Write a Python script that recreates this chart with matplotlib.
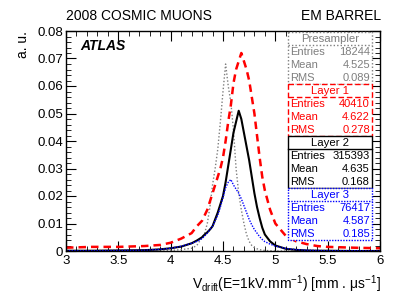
import numpy as np
import matplotlib.pyplot as plt
from matplotlib.patches import Rectangle
from matplotlib.ticker import MultipleLocator

plt.rcParams['font.family'] = ['Liberation Sans', 'DejaVu Sans']

# drift velocity points (mm/us)
vdrift = [3.0, 3.25, 3.5, 3.75, 3.9, 4.0, 4.1, 4.2, 4.25,
          4.3, 4.325, 4.35, 4.375, 4.4, 4.425, 4.45, 4.475, 4.5, 4.525,
          4.55, 4.575, 4.6, 4.625, 4.65, 4.675, 4.7, 4.725, 4.75, 4.775,
          4.8, 4.825, 4.85, 4.875, 4.9,
          4.95, 5.0, 5.1, 5.2, 5.3, 5.4, 5.5, 5.75, 6.0]

presampler = [0, 0, 0, 0, 0, 0.0002, 0.0005, 0.001, 0.002,
              0.005, 0.0065, 0.010, 0.016, 0.024, 0.030, 0.037, 0.047, 0.058, 0.068,
              0.060, 0.054, 0.044, 0.030, 0.021, 0.015, 0.010, 0.006, 0.0035, 0.002,
              0.0012, 0.0008, 0.0005, 0.0003, 0.0002,
              0.0001, 0, 0, 0, 0, 0, 0, 0, 0]

layer1 = [0.0012, 0.0015, 0.0015, 0.0018, 0.0022, 0.003, 0.0045, 0.0065, 0.009,
          0.011, 0.013, 0.015, 0.018, 0.021, 0.024, 0.027, 0.030, 0.034, 0.040,
          0.047, 0.053, 0.061, 0.066, 0.069, 0.072, 0.069, 0.066, 0.062, 0.056,
          0.050, 0.042, 0.034, 0.027, 0.022,
          0.015, 0.010, 0.0055, 0.0035, 0.0025, 0.0018, 0.0015, 0.0012, 0.001]

layer2 = [0.0001, 0.0001, 0.0002, 0.0003, 0.0006, 0.001, 0.0016, 0.0028, 0.0038,
          0.005, 0.006, 0.0068, 0.0078, 0.009, 0.0115, 0.014, 0.017, 0.020, 0.025,
          0.031, 0.037, 0.043, 0.047, 0.051, 0.048, 0.043, 0.038, 0.033, 0.027,
          0.021, 0.016, 0.012, 0.0085, 0.006,
          0.0035, 0.002, 0.0008, 0.0004, 0.0002, 0.0001, 0.0001, 0, 0]

layer3 = [0.0001, 0.0001, 0.0002, 0.0003, 0.0006, 0.001, 0.0017, 0.0028, 0.0035,
          0.0045, 0.0055, 0.0065, 0.0078, 0.009, 0.011, 0.013, 0.016, 0.0195, 0.023,
          0.025, 0.026, 0.024, 0.0225, 0.021, 0.019, 0.0165, 0.014, 0.0115, 0.0095,
          0.0078, 0.0065, 0.0052, 0.0042, 0.0034,
          0.0025, 0.0018, 0.0009, 0.0005, 0.0003, 0.0002, 0.0001, 0.0001, 0]

box_names = ["Presampler", "Layer 1", "Layer 2", "Layer 3"]
entries = ["18244", "40410", "315393", "76417"]
means = ["4.525", "4.622", "4.635", "4.587"]
rms = ["0.089", "0.278", "0.168", "0.185"]

colors = ['#7f7f7f', '#ff0000', '#000000', '#0000ff']
box_styles = [(0, (1, 1.5)), (0, (4, 2)), '-', (0, (1, 1))]

fig = plt.figure(figsize=(4.06, 3.06), dpi=100)
ax = fig.add_axes([66 / 406, 55 / 306, 314 / 406, 220 / 306])

ax.plot(vdrift, presampler, color=colors[0], lw=1.0, ls=(0, (1, 1.5)))
ax.plot(vdrift, layer1, color=colors[1], lw=1.8, ls=(0, (3, 2)))
ax.plot(vdrift, layer2, color=colors[2], lw=1.5, ls='-')
ax.plot(vdrift, layer3, color=colors[3], lw=1.0, ls=(0, (1, 1)))

ax.set_xlim(3, 6)
ax.set_ylim(0, 0.08)
ax.xaxis.set_minor_locator(MultipleLocator(0.1))
ax.yaxis.set_minor_locator(MultipleLocator(0.002))
ax.set_xticks([3, 3.5, 4, 4.5, 5, 5.5, 6])
ax.set_xticklabels(["3", "3.5", "4", "4.5", "5", "5.5", "6"])
ax.set_yticks([0, 0.01, 0.02, 0.03, 0.04, 0.05, 0.06, 0.07, 0.08])
ax.set_yticklabels(["0", "0.01", "0.02", "0.03", "0.04", "0.05", "0.06", "0.07", "0.08"])
ax.tick_params(which='both', direction='in', top=True, right=True, labelsize=9.5)
ax.tick_params(which='major', length=7, width=0.8)
ax.tick_params(which='minor', length=3.5, width=0.6)
ax.tick_params(axis='x', pad=3)
ax.tick_params(axis='y', pad=2)
for s in ax.spines.values():
    s.set_linewidth(1.0)

ax.text(0.045, 0.93, "ATLAS", transform=ax.transAxes, fontsize=10,
        fontweight='bold', style='italic', ha='left', va='center')

# overlay in pixel coordinates for labels and stat boxes
ov = fig.add_axes([0, 0, 1, 1], facecolor='none')
ov.set_xlim(0, 406)
ov.set_ylim(306, 0)
ov.axis('off')

ov.text(66, 20, "2008 COSMIC MUONS", fontsize=10, ha='left', va='baseline')
ov.text(381, 20, "EM BARREL", fontsize=10, ha='right', va='baseline')
ov.text(23, 31, "a. u.", fontsize=10, rotation=90, ha='center', va='top')
ov.text(381, 289, r"V$_{\mathregular{drift}}$(E=1kV.mm$^{\mathregular{-1}}$) [mm . $\mathregular{\mu}$s$^{\mathregular{-1}}$]",
        fontsize=10, ha='right', va='baseline')

bx0, bx1 = 288, 372
row_h = 13
top = 32
for i, name in enumerate(box_names):
    c = colors[i]
    y0 = top + i * 4 * row_h
    ov.add_patch(Rectangle((bx0, y0), bx1 - bx0, 4 * row_h, facecolor='white',
                           edgecolor=c, lw=1.0, ls=box_styles[i], zorder=3))
    ov.plot([bx0, bx1], [y0 + row_h, y0 + row_h], color=c, lw=1.0,
            ls=box_styles[i], zorder=4)
    ov.text((bx0 + bx1) / 2, y0 + row_h / 2 + 0.5, name, color=c, fontsize=8.2,
            ha='center', va='center', zorder=5)
    for j, (lab, val) in enumerate([("Entries", entries[i]), ("Mean", means[i]),
                                    ("RMS", rms[i])]):
        yc = y0 + row_h * (j + 1.5) + 0.5
        ov.text(bx0 + 2, yc, lab, color=c, fontsize=8, ha='left', va='center', zorder=5)
        ov.text(bx1 - 2, yc, val, color=c, fontsize=8, ha='right', va='center', zorder=5)

fig.savefig("out.png", dpi=100)
